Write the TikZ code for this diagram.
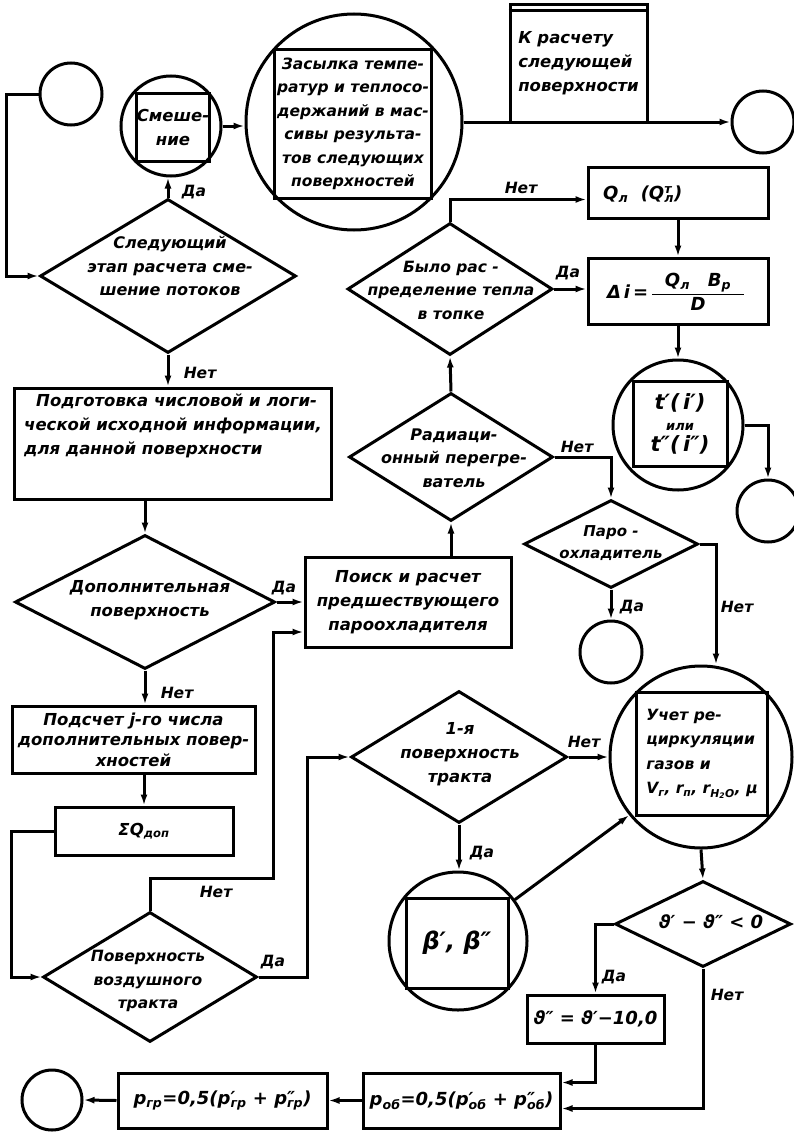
\documentclass[tikz,border=0pt]{standalone}
\usepackage{fontspec}
\usepackage{amsmath}
\setmainfont{DejaVu Sans}
\usetikzlibrary{shapes.geometric,arrows.meta,calc}
\newcommand\ps[2]{p\rlap{#1}\textsubscript{#2}}
\newcommand\fs[2]{\fontsize{#1}{#2}\selectfont\bfseries\itshape}
\begin{document}
\begin{tikzpicture}[x=1pt,y=-1pt,
  every node/.style={font=\fs{16.5}{24}},
  ln/.style={line width=3pt},
  arr/.style={ln,-{Latex[length=11pt,width=7pt]}},
  box/.style={draw,ln,rectangle,inner sep=0pt,align=center},
  dia/.style={draw,ln,diamond,inner sep=0pt},
  circ/.style={draw,ln,circle,inner sep=0pt},
  txt/.style={align=center,inner sep=0pt},
  lab/.style={inner sep=0pt,font=\fs{15.5}{17}}]
\fill[white] (0,0) rectangle (794,1132);
\useasboundingbox (0,0) rectangle (794,1132);

% top row
\node[circ,minimum size=62pt] (c1) at (71,94) {};
\node[circ,minimum size=100pt] (s1) at (171,126) {};
\node[box,minimum width=73pt,minimum height=68pt] (s1t) at (173,127) {Смеше-\\ние};
\node[circ,minimum size=216pt] (s2) at (354,122) {};
\node[box,minimum width=157pt,minimum height=148pt,font=\fs{15.5}{23.5}] (s2t) at (353,124)
  {Засылка темпе-\\ратур и теплосо-\\держаний в мас-\\сивы результа-\\тов следующих\\поверхностей};
\node[box,minimum width=137pt,minimum height=117pt,align=left] (kb) at (578.5,63.5) {К расчету\\следующей\\поверхности};
\draw[ln] ([yshift=-7pt]kb.north west) -- ([yshift=-7pt]kb.north east);
\node[circ,minimum size=62pt] (c2) at (763,122) {};

% left column
\node[dia,minimum width=256pt,minimum height=154pt] (d1) at (168,276) {};
\node[txt,font=\fs{16}{23.5}] (d1t) at (170,266) {Следующий\\этап расчета сме-\\шение потоков};
\node[box,minimum width=317pt,minimum height=111pt] (b1) at (172.5,443.5) {};
\node[txt,align=left,anchor=north west] (b1t) at (24,394)
  {\hspace*{12pt}Подготовка числовой и логи-\\ческой исходной информации,\\для данной поверхности};
\node[dia,minimum width=260pt,minimum height=134pt] (d2) at (145,602) {};
\node[txt] (d2t) at (150,600) {Дополнительная\\поверхность};
\node[box,minimum width=243pt,minimum height=67pt,font=\fs{16.5}{20.5}] (b3) at (133.5,739.5)
  {Подсчет j-го числа\\дополнительных повер-\\хностей};
\node[box,minimum width=178pt,minimum height=48pt] (sq) at (144,831) {ΣQ\textsubscript{доп}};
\node[dia,minimum width=214pt,minimum height=130pt] (d5) at (150,977) {};
\node[txt,font=\fs{15.5}{23.5}] (d5t) at (148,981) {Поверхность\\воздушного\\тракта};

% middle column
\node[dia,minimum width=205pt,minimum height=132pt] (d3) at (450,289) {};
\node[txt,font=\fs{15.5}{23.5}] (d3t) at (451,290) {Было рас -\\пределение тепла\\в топке};
\node[dia,minimum width=204pt,minimum height=128pt] (d4) at (451,457) {};
\node[txt,font=\fs{16}{23.5}] (d4t) at (454,458) {Радиаци-\\онный перегре-\\ватель};
\node[box,minimum width=206pt,minimum height=90pt] (b2) at (408,602) {Поиск и расчет\\предшествующего\\пароохладителя};
\node[dia,minimum width=216pt,minimum height=132pt] (d7) at (459,757) {};
\node[txt] (d7t) at (460,754) {1-я\\поверхность\\тракта};
\node[circ,minimum size=138pt] (c7) at (458,941) {};
\node[box,minimum width=102pt,minimum height=90pt,font=\fs{24}{28}] (c7t) at (457,943) {β′, β″};

% right column
\node[box,minimum width=180pt,minimum height=51pt] (q) at (678,192.5) {};
\node[txt,anchor=west,font=\fs{18}{22}] (qt) at (603,194) {Q\textsubscript{л}\ \ (Q\rlap{\textsuperscript{т}}\textsubscript{л})};
\node[box,minimum width=180pt,minimum height=66pt] (di) at (678,291) {};
\node[txt,font=\fs{18}{22}] (dit) at (676,292)
  {$\text{Δ\,i\,=\,}\dfrac{\text{\ \ Q\textsubscript{л}\quad B\textsubscript{р}\ \ }}{\text{D}}$};
\node[circ,minimum size=130pt] (c3) at (678,425) {};
\node[box,minimum width=94pt,minimum height=85pt,font=\fs{21}{21}] (c3t) at (680,424)
  {t′(\,i′)\\{\fs{13}{15}или}\\t″(\,i″)};
\node[circ,minimum size=62pt] (c4) at (768,511) {};
\node[dia,minimum width=174pt,minimum height=88pt] (d6) at (611,544) {};
\node[txt,font=\fs{15}{22}] (d6t) at (611,543) {Паро -\\охладитель};
\node[circ,minimum size=62pt] (c5) at (611,652) {};
\node[circ,minimum size=182pt] (c6) at (701,757) {};
\node[box,minimum width=131pt,minimum height=123pt,align=left,font=\fs{15.5}{24.5}] (c6t) at (702,754)
  {Учет ре-\\циркуляции\\газов и\\V\textsubscript{г}, r\textsubscript{п}, r\textsubscript{H\textsubscript{2}O}, μ};
\node[dia,minimum width=176pt,minimum height=86pt] (d8) at (703,924) {};
\node[txt,font=\fs{18}{20}] (d8t) at (711,922) {ϑ′ − ϑ″ < 0};
\node[box,minimum width=137pt,minimum height=48pt,font=\fs{18}{20}] (b6) at (595.5,1019) {ϑ″ = ϑ′−10,0};

% bottom row
\node[box,minimum width=197pt,minimum height=55pt,font=\fs{18}{22}] (b7) at (461.5,1100.5)
  {\ps{}{об}=0,5(\ps{′}{об} + \ps{″}{об})};
\node[box,minimum width=209pt,minimum height=55pt,font=\fs{18}{22}] (b8) at (222.5,1100.5)
  {\ps{}{гр}=0,5(\ps{′}{гр} + \ps{″}{гр})};
\node[circ,minimum size=60pt] (c8) at (52,1100) {};

% connectors
\draw[arr] (c1.west) -- ++(-32,0) |- (d1.west);
\draw[arr] (d1.north) -- (d1.north |- s1.south);
\draw[arr] (s1.east) -- (s1.east -| s2.west);
\draw[arr] (s2.east) -- (c2.west);
\draw[arr] (d1.south) -- (d1.south |- b1.north);
\draw[arr] (b1.south -| d2.north) -- (d2.north);
\draw[arr] (d2.east) -- (d2.east -| b2.west);
\draw[arr] (d2.south) -- (d2.south |- b3.north);
\draw[arr] (sq.north |- b3.south) -- (sq.north);
\draw[arr] (sq.west) -- ++(-42,0) |- (d5.west);
\coordinate (j1) at (273,878);
\draw[arr] (d5.north) |- (j1) |- ([yshift=-30pt]b2.west);
\coordinate (j2) at (307,757);
\draw[arr] (d5.east) -| (j2) -- (d7.west);
\draw[arr] (d4.south |- b2.north) -- (d4.south);
\draw[arr] (d4.north) -- (d3.south);
\draw[arr] (d3.north) |- ([yshift=-7pt]q.west);
\draw[arr] (d3.east) -- (d3.east -| di.west);
\draw[arr] (q.south) -- (di.north);
\draw[arr] (di.south) -- (c3.north);
\draw[arr] (c3.east) -| (c4.north);
\draw[arr] (d4.east) -| (d6.north);
\draw[arr] (d6.south) -- (c5.north);
\draw[arr] (d6.east) -| ([xshift=15pt]c6.north);
\draw[arr] (d7.east) -- (c6.west);
\draw[arr] (d7.south) -- (d7.south |- c7.north);
\draw[arr] (c7.36) -- (c6.219);
\draw[arr] (c6.south) -- (d8.north);
\draw[arr] (d8.west) -| (b6.north);
\draw[arr] (b6.south) |- ([yshift=18pt]b7.east);
\draw[arr] (d8.south) |- ([yshift=-8pt]b7.east);
\draw[arr] (b7.west) -- (b8.east);
\draw[arr] (b8.west) -- (c8.east);

% labels
\node[lab] (l1) at (194,192) {Да};
\node[lab] (l2) at (200,373) {Нет};
\node[lab] (l3) at (284,588) {Да};
\node[lab] (l4) at (177,693) {Нет};
\node[lab] (l5) at (216,892) {Нет};
\node[lab] (l6) at (273,962) {Да};
\node[lab] (l7) at (521,188) {Нет};
\node[lab] (l8) at (568,273) {Да};
\node[lab] (l9) at (577,447) {Нет};
\node[lab] (l10) at (632,607) {Да};
\node[lab] (l11) at (737,607) {Нет};
\node[lab] (l12) at (584,742) {Нет};
\node[lab] (l13) at (482,853) {Да};
\node[lab] (l14) at (614,977) {Да};
\node[lab] (l15) at (727,995) {Нет};
\end{tikzpicture}
\end{document}
